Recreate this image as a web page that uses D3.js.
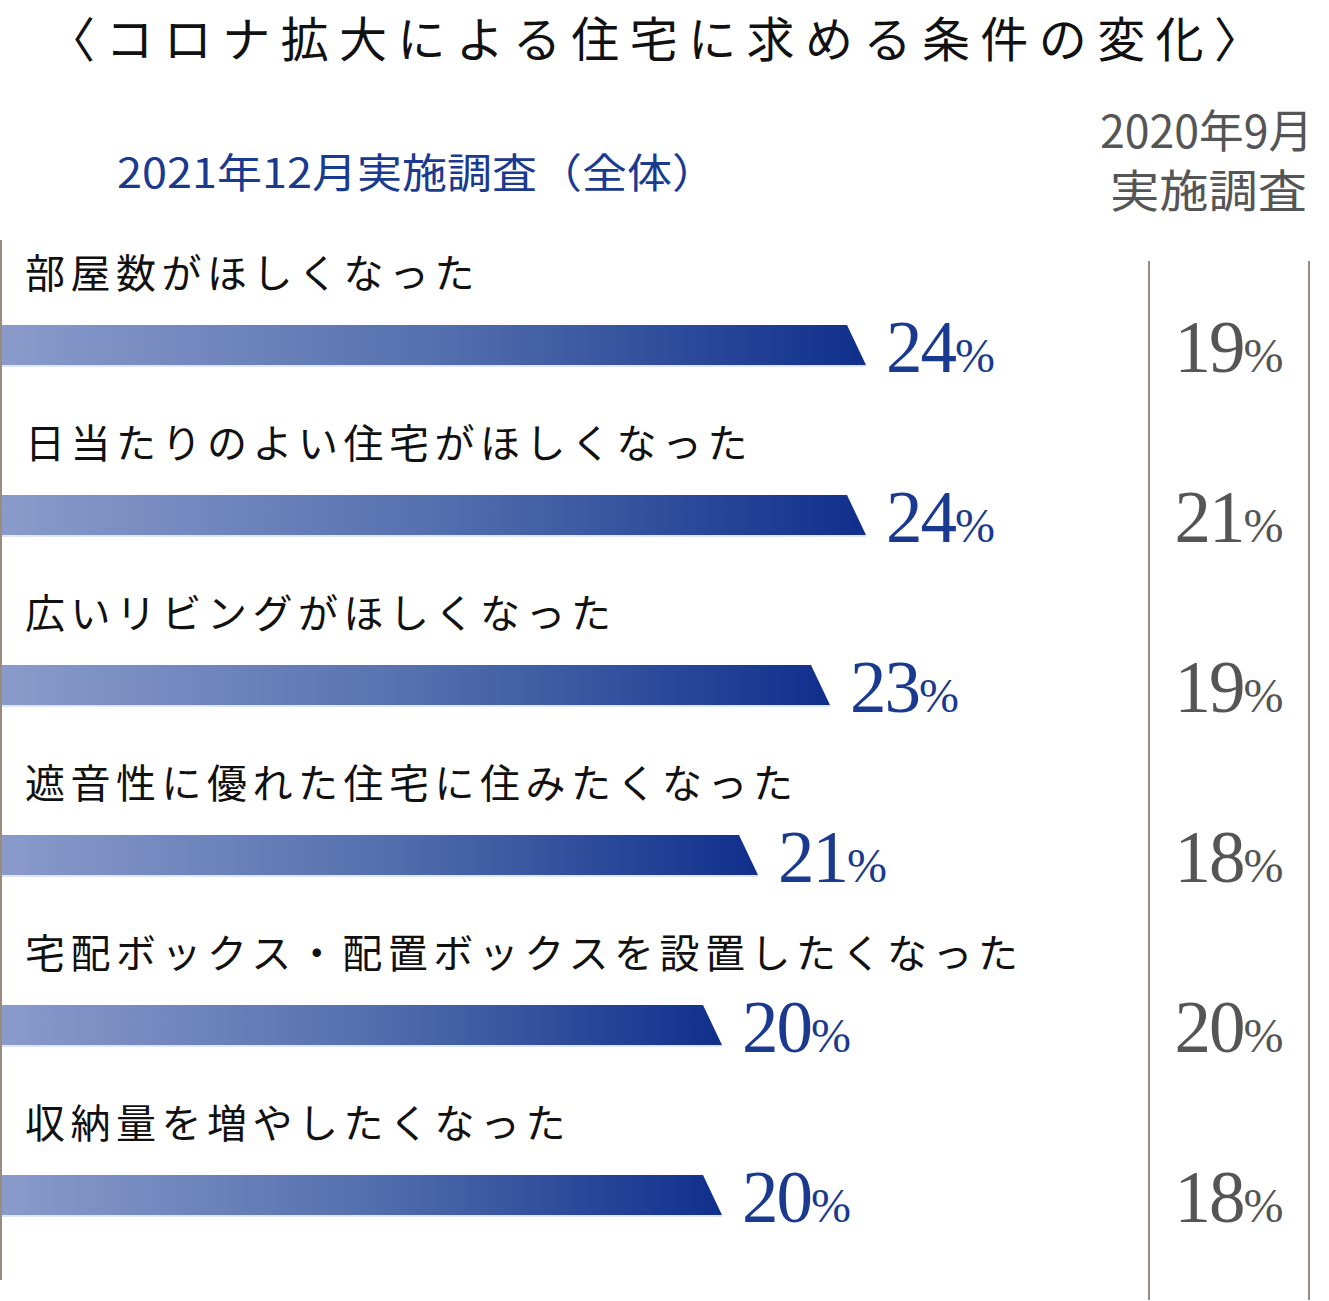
<!DOCTYPE html>
<html><head><meta charset="utf-8">
<script src="https://cdn.jsdelivr.net/npm/d3@7"></script>
<style>html,body{margin:0;padding:0;background:#fff;}</style>
</head><body>
<div id="chart"></div>
<script>
const title = "〈コロナ拡大による住宅に求める条件の変化〉";
const header2021 = "2021年12月実施調査（全体）";
const header2020 = ["2020年9月", "実施調査"];
const categories = [
  "部屋数がほしくなった",
  "日当たりのよい住宅がほしくなった",
  "広いリビングがほしくなった",
  "遮音性に優れた住宅に住みたくなった",
  "宅配ボックス・配置ボックスを設置したくなった",
  "収納量を増やしたくなった"
];
const values2021 = [24, 24, 23, 21, 20, 20];
const values2020 = [19, 21, 19, 18, 20, 18];

const W = 1329, H = 1301;
const svg = d3.select("#chart").append("svg").attr("width", W).attr("height", H);
const CJK = "'Noto Sans CJK JP', sans-serif";
const SERIF = "'Liberation Serif', 'DejaVu Serif', serif";

const defs = svg.append("defs");
const grad = defs.append("linearGradient").attr("id", "barGrad");
grad.append("stop").attr("offset", "0%").attr("stop-color", "#8a9bcb");
grad.append("stop").attr("offset", "50%").attr("stop-color", "#5570ae");
grad.append("stop").attr("offset", "100%").attr("stop-color", "#0f2f8c");

const x = d3.scaleLinear().domain([0, 24]).range([2, 866]);
const y = d3.scaleBand().domain(categories).range([260, 1280]);
const barH = 40;
const slant = 19;

// title
svg.append("text").attr("x", 47).attr("y", 57)
  .attr("font-family", CJK).attr("font-size", 48).attr("fill", "#111")
  .attr("textLength", 1215).attr("lengthAdjust", "spacing").text(title);

// headers
svg.append("text").attr("x", 117).attr("y", 188)
  .attr("font-family", CJK).attr("font-size", 41).attr("fill", "#1a3a8f")
  .attr("textLength", 600).attr("lengthAdjust", "spacingAndGlyphs").text(header2021);
svg.selectAll("text.h20").data(header2020).join("text").attr("class", "h20")
  .attr("x", (d, i) => i === 0 ? 1100 : 1110).attr("y", (d, i) => 148 + i * 60)
  .attr("font-family", CJK).attr("font-size", 45).attr("fill", "#555")
  .attr("textLength", (d, i) => i === 0 ? 213 : 197).attr("lengthAdjust", "spacingAndGlyphs")
  .text(d => d);

// vertical lines
svg.append("line").attr("x1", 1).attr("x2", 1).attr("y1", 240).attr("y2", 1280)
  .attr("stroke", "#9b8b7e").attr("stroke-width", 2);
[1149, 1309].forEach(lx => svg.append("line").attr("x1", lx).attr("x2", lx)
  .attr("y1", 261).attr("y2", 1300).attr("stroke", "#9b8b7e").attr("stroke-width", 2));

const rows = svg.selectAll("g.row").data(categories).join("g").attr("class", "row");

// category labels
rows.append("text")
  .attr("x", 25).attr("y", d => y(d) + y.bandwidth() / 2 - 57)
  .attr("font-family", CJK).attr("font-size", 40).attr("fill", "#111")
  .attr("letter-spacing", 5.5).text(d => d);

// bars
rows.append("path")
  .attr("fill", "url(#barGrad)")
  .attr("d", (d, i) => {
    const cy = y(d) + y.bandwidth() / 2;
    const t = cy - barH / 2, b = cy + barH / 2;
    const xe = x(values2021[i]);
    return `M${x(0)},${t}L${xe - slant},${t}L${xe},${b}L${x(0)},${b}Z`;
  });
rows.append("line")
  .attr("x1", x(0)).attr("x2", (d, i) => x(values2021[i]))
  .attr("y1", d => y(d) + y.bandwidth() / 2 + barH / 2 + 1)
  .attr("y2", d => y(d) + y.bandwidth() / 2 + barH / 2 + 1)
  .attr("stroke", "#d3ddf0").attr("stroke-width", 1.5);

// 2021 value labels
const v21 = rows.append("text")
  .attr("x", (d, i) => x(values2021[i]) + 20)
  .attr("y", d => y(d) + y.bandwidth() / 2 + 27)
  .attr("font-family", SERIF).attr("fill", "#1a3a8f");
v21.append("tspan").attr("font-size", 73).attr("letter-spacing", -2).text((d, i) => values2021[i]);
v21.append("tspan").attr("font-size", 48).text("%");

// 2020 value labels
const v20 = rows.append("text")
  .attr("x", 1229).attr("text-anchor", "middle")
  .attr("y", d => y(d) + y.bandwidth() / 2 + 27)
  .attr("font-family", SERIF).attr("fill", "#555");
v20.append("tspan").attr("font-size", 73).attr("letter-spacing", -2).text((d, i) => values2020[i]);
v20.append("tspan").attr("font-size", 48).text("%");
</script>
</body></html>
